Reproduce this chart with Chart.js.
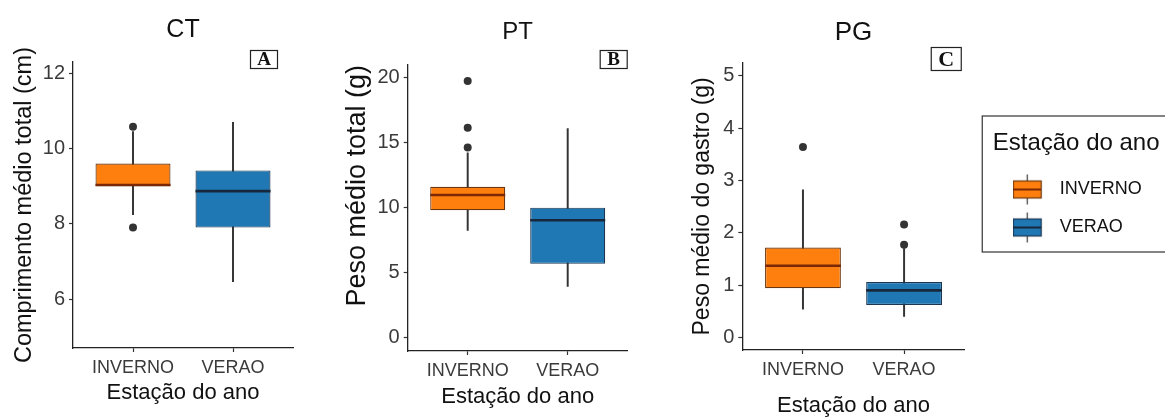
<!DOCTYPE html>
<html>
<head>
<meta charset="utf-8">
<script src="https://cdn.jsdelivr.net/npm/chart.js@4.4.1/dist/chart.umd.min.js"></script>
<style>
	html, body { margin: 0; padding: 0; background: #fff; overflow: hidden; }
	#wrap { position: relative; width: 1165px; height: 419px; }
	canvas { position: absolute; top: 0; }
</style>
</head>
<body>
<div id="wrap">
	<canvas id="chartCT" width="320" height="419" style="left:0px"></canvas>
	<canvas id="chartPT" width="320" height="419" style="left:320px"></canvas>
	<canvas id="chartPG" width="525" height="419" style="left:640px"></canvas>
</div>
<script>
const seasons = ["INVERNO", "VERAO"];
const seasonColors = ["#FF7F0E", "#1F77B4"];
const edgeColors = ["#6b3710", "#1c3652"];
const medianColors = ["#7a2805", "#17283d"];

// CT - comprimento medio total (cm)
const ctQ1 = [9.0, 7.9];
const ctMedian = [9.03, 8.87];
const ctQ3 = [9.6, 9.42];
const ctLower = [8.24, 6.46];
const ctUpper = [10.45, 10.7];
const ctOutliers = [[7.9, 10.58], []];
const ctTicks = [6, 8, 10, 12];

// PT - peso medio total (g)
const ptQ1 = [9.8, 5.69];
const ptMedian = [10.97, 9.03];
const ptQ3 = [11.6, 10.0];
const ptLower = [8.26, 3.95];
const ptUpper = [14.2, 16.07];
const ptOutliers = [[14.62, 16.13, 19.72], []];
const ptTicks = [0, 5, 10, 15, 20];

// PG - peso medio do gastro (g)
const pgQ1 = [0.94, 0.62];
const pgMedian = [1.37, 0.9];
const pgQ3 = [1.72, 1.06];
const pgLower = [0.54, 0.4];
const pgUpper = [2.82, 1.7];
const pgOutliers = [[3.64], [1.77, 2.16]];
const pgTicks = [0, 1, 2, 3, 4, 5];

Chart.defaults.font.family = "'Liberation Sans', Arial, sans-serif";
Chart.defaults.color = "#333";

// small boxplot glyph for the legend
function legendIcon(i) {
	let c = document.createElement("canvas");
	c.width = 38;
	c.height = 32;
	let g = c.getContext("2d");
	g.strokeStyle = "#3a3a3a";
	g.lineWidth = 1.2;
	g.beginPath();
	g.moveTo(14.5, 1);
	g.lineTo(14.5, 31);
	g.stroke();
	g.fillStyle = seasonColors[i];
	g.fillRect(0.5, 7.5, 28, 17);
	g.strokeStyle = edgeColors[i];
	g.strokeRect(0.5, 7.5, 28, 17);
	g.strokeStyle = medianColors[i];
	g.lineWidth = 2;
	g.beginPath();
	g.moveTo(0.5, 16);
	g.lineTo(28.5, 16);
	g.stroke();
	return c;
}

// median lines + the boxed panel letter
const boxExtras = {
	id: "boxExtras",
	afterDatasetsDraw(chart, args, opts) {
		const ctx = chart.ctx;
		const meta = chart.getDatasetMeta(0);
		const y = chart.scales.y;
		ctx.save();
		ctx.lineWidth = 2.6;
		meta.data.forEach((bar, i) => {
			const py = y.getPixelForValue(opts.medians[i]);
			ctx.strokeStyle = medianColors[i];
			ctx.beginPath();
			ctx.moveTo(bar.x - bar.width / 2, py);
			ctx.lineTo(bar.x + bar.width / 2, py);
			ctx.stroke();
		});
		ctx.restore();
	},
	afterDraw(chart, args, opts) {
		const { ctx, chartArea } = chart;
		const L = opts.letter;
		const x0 = chartArea.right + L.dx - L.w;
		const y0 = chartArea.top + L.dy;
		ctx.save();
		ctx.fillStyle = "#fff";
		ctx.fillRect(x0, y0, L.w, L.h);
		ctx.strokeStyle = "#222";
		ctx.lineWidth = 1.2;
		ctx.strokeRect(x0 + 0.5, y0 + 0.5, L.w, L.h);
		ctx.fillStyle = "#111";
		ctx.font = "bold " + L.size + "px 'Liberation Serif', 'Times New Roman', serif";
		ctx.textAlign = "center";
		ctx.textBaseline = "middle";
		ctx.fillText(L.text, x0 + L.w / 2 + 0.5, y0 + L.h / 2 + 1.5);
		ctx.restore();
	},
};

// pushes the legend right (and widens it to the canvas edge), then frames it
const legendFrame = {
	id: "legendFrame",
	afterLayout(chart, args, opts) {
		if (!opts.enabled) return;
		const lg = chart.legend;
		lg.left += opts.shift;
		lg.right = chart.width;
		lg.width = lg.right - lg.left;
	},
	afterDraw(chart, args, opts) {
		if (!opts.enabled) return;
		const lg = chart.legend;
		const ctx = chart.ctx;
		ctx.save();
		ctx.strokeStyle = "#333";
		ctx.lineWidth = 1.2;
		ctx.strokeRect(lg.left - 11 + 0.5, lg.top + 53.3, 260, 136);
		ctx.restore();
	},
};

function makePanel(id, d, lay) {
	const boxData = seasons.map((s, i) => ({ x: i + 1, y: [d.q1[i], d.q3[i]] }));
	const whiskerData = seasons.map((s, i) => ({ x: i + 1, y: [d.lower[i], d.upper[i]] }));
	const outlierData = [];
	d.outliers.forEach((arr, i) => arr.forEach((v) => outlierData.push({ x: i + 1, y: v })));

	const tickGrid = {
		drawOnChartArea: false,
		drawTicks: true,
		tickLength: 4,
		tickColor: "#333",
		tickWidth: 1.2,
		offset: false,
	};
	const axisBorder = { display: true, color: "#222", width: 1.3 };

	return new Chart(document.getElementById(id), {
		type: "bar",
		data: {
			datasets: [
				{
					data: boxData,
					backgroundColor: seasonColors,
					borderColor: edgeColors,
					borderWidth: 1.2,
					borderSkipped: false,
					grouped: false,
					barPercentage: 0.75,
					categoryPercentage: 1.0,
					order: 1,
				},
				{
					data: whiskerData,
					backgroundColor: "#333",
					borderWidth: 0,
					grouped: false,
					barThickness: 1.3,
					order: 2,
				},
				{
					type: "scatter",
					data: outlierData,
					pointRadius: 4,
					backgroundColor: "#333",
					borderWidth: 0,
					order: 0,
				},
			],
		},
		plugins: [boxExtras, legendFrame],
		options: {
			responsive: false,
			animation: false,
			events: [],
			devicePixelRatio: 1,
			layout: { padding: { left: 0, right: lay.padRight, top: 0, bottom: 0 } },
			plugins: {
				tooltip: { enabled: false },
				title: {
					display: true,
					text: d.title,
					fullSize: false,
					color: "#111",
					font: { size: lay.titleSize, weight: "normal" },
					padding: lay.titlePad,
				},
				legend: {
					display: !!lay.legend,
					position: "right",
					fullSize: false,
					align: "start",
					title: {
						display: true,
						text: "Estação do ano",
						position: "start",
						color: "#111",
						font: { size: 24 },
						padding: { top: 69, bottom: 0 },
					},
					labels: {
						usePointStyle: true,
						pointStyleWidth: 38,
						padding: 20,
						color: "#222",
						font: { size: 18 },
						generateLabels: () =>
							seasons.map((s, i) => ({
								text: s,
								pointStyle: legendIcon(i),
								fillStyle: seasonColors[i],
								strokeStyle: edgeColors[i],
								lineWidth: 0,
								hidden: false,
								datasetIndex: 0,
							})),
					},
				},
				boxExtras: { medians: d.median, letter: lay.letter },
				legendFrame: { enabled: !!lay.legend, shift: 28 },
			},
			scales: {
				x: {
					type: "linear",
					min: 0.4,
					max: 2.6,
					bounds: "data",
					offset: false,
					afterBuildTicks: (s) => {
						s.ticks = seasons.map((c, i) => ({ value: i + 1 }));
					},
					afterFit: (s) => {
						s.height = lay.xAxisHeight;
					},
					grid: tickGrid,
					border: axisBorder,
					ticks: {
						callback: (v) => seasons[v - 1],
						color: "#3a3a3a",
						font: { size: 18 },
						padding: 5,
						maxRotation: 0,
						autoSkip: false,
					},
					title: {
						display: true,
						text: "Estação do ano",
						color: "#111",
						font: { size: 22 },
						padding: { top: 0, bottom: lay.xTitlePad },
					},
				},
				y: {
					min: d.yMin,
					max: d.yMax,
					bounds: "data",
					afterBuildTicks: (s) => {
						s.ticks = d.ticks.map((v) => ({ value: v }));
					},
					afterFit: (s) => {
						s.width = lay.yAxisWidth;
					},
					grid: tickGrid,
					border: axisBorder,
					ticks: {
						color: "#3a3a3a",
						font: { size: 20 },
						padding: 4,
					},
					title: {
						display: true,
						text: d.yTitle,
						align: lay.yTitleAlign || "center",
						color: "#111",
						font: { size: lay.yTitleSize },
						padding: { top: lay.yTitlePad, bottom: 0 },
					},
				},
			},
		},
	});
}

makePanel(
	"chartCT",
	{
		title: "CT",
		yTitle: "Comprimento médio total (cm)",
		q1: ctQ1, q3: ctQ3, median: ctMedian, lower: ctLower, upper: ctUpper,
		outliers: ctOutliers, ticks: ctTicks, yMin: 4.7, yMax: 12.3,
	},
	{
		yAxisWidth: 73, padRight: 27, xAxisHeight: 71,
		titleSize: 25, titlePad: { top: 15.5, bottom: 16.5 },
		yTitleSize: 23.5, yTitlePad: 10, xTitlePad: 13.3,
		letter: { text: "A", dx: -16, dy: -12, w: 27, h: 18, size: 19 },
	}
);

makePanel(
	"chartPT",
	{
		title: "PT",
		yTitle: "Peso médio total (g)",
		q1: ptQ1, q3: ptQ3, median: ptMedian, lower: ptLower, upper: ptUpper,
		outliers: ptOutliers, ticks: ptTicks, yMin: -1, yMax: 20.95,
	},
	{
		yAxisWidth: 87.7, padRight: 12.3, xAxisHeight: 68,
		titleSize: 24, titlePad: { top: 18.1, bottom: 18.1 },
		yTitleSize: 27, yTitleAlign: "end", yTitlePad: 21, xTitlePad: 8.8,
		letter: { text: "B", dx: -1, dy: -15, w: 27, h: 18, size: 19 },
	}
);

makePanel(
	"chartPG",
	{
		title: "PG",
		yTitle: "Peso médio do gastro (g)",
		q1: pgQ1, q3: pgQ3, median: pgMedian, lower: pgLower, upper: pgUpper,
		outliers: pgOutliers, ticks: pgTicks, yMin: -0.24, yMax: 5.25,
	},
	{
		yAxisWidth: 102.3, padRight: 92, xAxisHeight: 69,
		titleSize: 26, titlePad: { top: 16.9, bottom: 14.6 },
		yTitleSize: 23, yTitlePad: 48.7, xTitlePad: 0,
		letter: { text: "C", dx: -4, dy: -15.7, w: 30, h: 23, size: 22 },
		legend: true,
	}
);
</script>
</body>
</html>
